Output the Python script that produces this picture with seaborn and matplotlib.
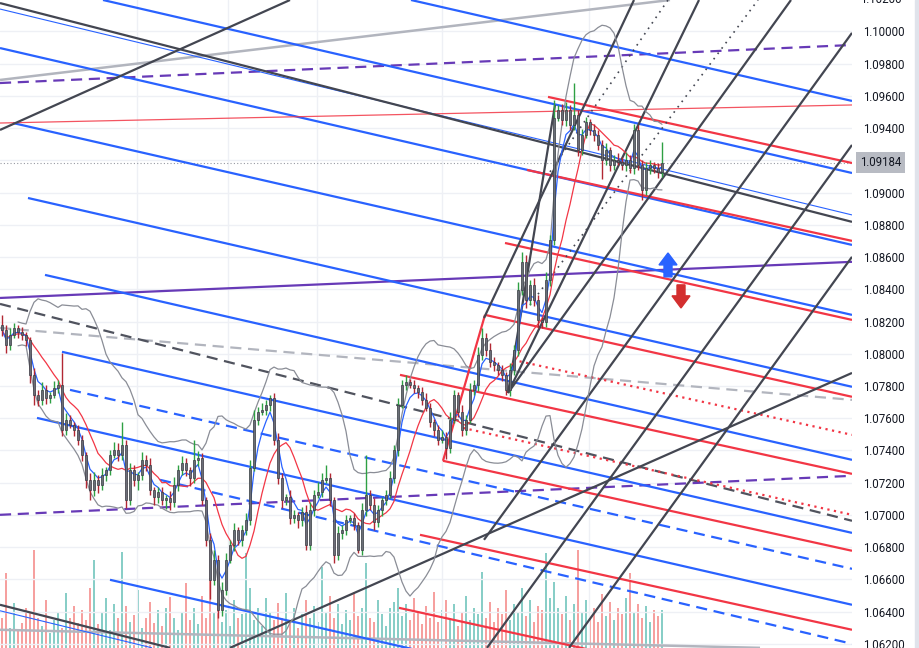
import numpy as np
import pandas as pd
import matplotlib
matplotlib.use('Agg')
import matplotlib.pyplot as plt
import seaborn as sns
from matplotlib.patches import Polygon, Rectangle

# ---- candle data (one value per bar) ----
first_open = 1.08179
close = [
    1.08148, 1.08055, 1.08117, 1.08160, 1.08136, 1.08117, 1.08086, 1.07869, 1.07745, 1.07714,
    1.07776, 1.07726, 1.07745, 1.07788, 1.07807, 1.07528, 1.07590, 1.07559, 1.07528, 1.07466,
    1.07373, 1.07218, 1.07156, 1.07218, 1.07187, 1.07249, 1.07280, 1.07373, 1.07404, 1.07373,
    1.07435, 1.07094, 1.07280, 1.07218, 1.07249, 1.07342, 1.07311, 1.07156, 1.07113, 1.07144,
    1.07094, 1.07106, 1.07082, 1.07187, 1.07280, 1.07323, 1.07280, 1.07230, 1.07342, 1.07354,
    1.07094, 1.06846, 1.06598, 1.06722, 1.06412, 1.06536, 1.06722, 1.06815, 1.06908, 1.06846,
    1.06908, 1.06970, 1.07292, 1.07590, 1.07640, 1.07652, 1.07683, 1.07726, 1.07466, 1.07230,
    1.07094, 1.07113, 1.06982, 1.07001, 1.06970, 1.07020, 1.06815, 1.07032, 1.07125, 1.07144,
    1.07218, 1.07230, 1.07094, 1.06753, 1.06889, 1.06908, 1.06970, 1.06982, 1.06939, 1.06784,
    1.07032, 1.07125, 1.07063, 1.06958, 1.07032, 1.07094, 1.07125, 1.07230, 1.07404, 1.07683,
    1.07807, 1.07826, 1.07807, 1.07788, 1.07764, 1.07714, 1.07664, 1.07578, 1.07528, 1.07466,
    1.07485, 1.07416, 1.07590, 1.07745, 1.07640, 1.07528, 1.07590, 1.07776, 1.07807, 1.07993,
    1.08098, 1.08024, 1.07950, 1.07931, 1.07900, 1.07869, 1.07776, 1.07900, 1.08024, 1.08396,
    1.08570, 1.08334, 1.08427, 1.08334, 1.08210, 1.08198, 1.08458, 1.08706, 1.09462, 1.09512,
    1.09450, 1.09512, 1.09419, 1.09481, 1.09264, 1.09357, 1.09438, 1.09388, 1.09357, 1.09295,
    1.09202, 1.09264, 1.09171, 1.09202, 1.09190, 1.09171, 1.09202, 1.09152, 1.09388, 1.09171,
    1.09016, 1.09152, 1.09171, 1.09152, 1.09128, 1.09184,
]
# wick lengths in pips
wick_up = [
    6, 3, 4, 3, 2, 3, 2, 2, 4, 3, 5, 3, 2, 4, 3, 20, 4, 3, 2, 3,
    3, 2, 4, 5, 3, 4, 2, 3, 5, 4, 14, 3, 4, 3, 2, 5, 3, 4, 2, 3,
    3, 2, 4, 5, 3, 4, 3, 2, 12, 4, 3, 2, 4, 6, 3, 5, 4, 3, 4, 2,
    3, 4, 5, 6, 3, 4, 3, 2, 3, 4, 3, 2, 4, 3, 2, 3, 4, 5, 3, 6,
    4, 8, 3, 2, 4, 3, 3, 2, 3, 2, 4, 25, 3, 4, 3, 2, 3, 4, 3, 4,
    3, 4, 2, 3, 2, 3, 4, 3, 2, 3, 4, 3, 5, 3, 2, 4, 3, 4, 3, 5,
    6, 3, 4, 3, 2, 3, 2, 4, 3, 5, 6, 4, 3, 4, 3, 2, 5, 3, 11, 3,
    4, 5, 3, 20, 3, 4, 3, 2, 4, 3, 3, 4, 2, 3, 4, 3, 5, 3, 4, 3,
    3, 4, 3, 2, 3, 13,
]
wick_dn = [
    4, 5, 3, 2, 4, 3, 4, 5, 6, 4, 3, 4, 3, 2, 3, 4, 3, 2, 4, 3,
    4, 5, 6, 4, 5, 3, 4, 3, 2, 4, 3, 5, 3, 4, 6, 3, 4, 3, 5, 4,
    3, 6, 5, 3, 4, 3, 4, 5, 3, 4, 3, 4, 12, 3, 5, 4, 3, 2, 4, 3,
    4, 3, 3, 2, 3, 2, 3, 4, 3, 4, 5, 3, 4, 3, 5, 4, 3, 3, 4, 2,
    3, 2, 4, 5, 3, 4, 3, 2, 3, 2, 3, 4, 3, 5, 3, 4, 3, 2, 3, 4,
    2, 3, 2, 3, 4, 3, 2, 3, 4, 3, 2, 7, 3, 2, 3, 4, 3, 2, 3, 4,
    3, 4, 3, 4, 3, 4, 3, 4, 3, 4, 3, 5, 3, 4, 5, 4, 3, 4, 3, 2,
    3, 4, 3, 3, 4, 3, 2, 3, 4, 3, 12, 3, 4, 3, 2, 3, 4, 3, 4, 3,
    6, 3, 4, 3, 4, 3,
]
volume = [
    30, 75, 20, 45, 18, 25, 40, 35, 98, 30, 22, 48, 15, 28, 36, 20, 55, 30, 42, 25,
    38, 28, 60, 88, 24, 35, 50, 18, 44, 30, 96, 42, 26, 33, 58, 20, 30, 46, 25, 38,
    22, 40, 51, 30, 18, 35, 65, 28, 40, 24, 52, 30, 70, 36, 44, 26, 38, 22, 48, 30,
    34, 95, 60, 28, 40, 22, 50, 36, 28, 45, 30, 55, 26, 40, 20, 34, 48, 30, 42, 26,
    81, 36, 52, 30, 44, 24, 38, 28, 56, 32, 40, 85, 30, 26, 48, 34, 22, 40, 46, 60,
    32, 44, 28, 50, 36, 24, 42, 30, 56, 26, 38, 48, 30, 44, 22, 36, 52, 28, 40, 34,
    76, 30, 46, 26, 40, 34, 58, 28, 44, 36, 60, 32, 48, 26, 42, 38, 95, 50, 66, 40,
    34, 52, 28, 44, 98, 36, 48, 30, 40, 26, 54, 32, 46, 28, 40, 34, 50, 75, 36, 44,
    30, 42, 26, 38, 32, 38,
]
last_price = 1.09184
price_ticks = [1.062, 1.064, 1.066, 1.068, 1.070, 1.072, 1.074, 1.076, 1.078, 1.080,
               1.082, 1.084, 1.086, 1.088, 1.090, 1.092, 1.094, 1.096, 1.098, 1.100]
time_grid = [33.75, 56.5, 78.75, 110, 146.75]

# ---- drawings: (bar0, price0, bar1, price1) ----
blue_solid = [
    (102.25, 1.10194, 212.5, 1.09568), (25.25, 1.10194, 212.5, 1.09121),
    (-0.5, 1.09896, 212.5, 1.08675), (2.75, 1.09431, 212.5, 1.08241),
    (6.5, 1.08966, 212.5, 1.07795), (10.75, 1.08489, 212.5, 1.07342),
    (15, 1.08012, 212.5, 1.06889), (8.75, 1.07602, 212.5, 1.06443),
    (27, 1.06598, 212.5, 1.05544),
]
blue_dashed = [(17, 1.07776, 212.5, 1.06666), (39.5, 1.07218, 212.5, 1.06201)]
blue_thin = [(-0.5, 1.10138, 212.5, 1.08861), (-0.5, 1.06406, 37.5, 1.06176)]
red_solid = [
    (136.5, 1.09593, 212.5, 1.09183), (131.25, 1.09140, 212.5, 1.08700),
    (125.75, 1.08687, 212.5, 1.08210), (120.75, 1.08241, 212.5, 1.07733),
    (99.5, 1.07869, 212.5, 1.07255), (110.25, 1.07336, 212.5, 1.06778),
    (104.5, 1.06877, 212.5, 1.06288), (99.25, 1.06424, 212.5, 1.05807),
    (110.25, 1.07336, 120.75, 1.08241),
]
red_dotted = [(127.75, 1.07962, 212.5, 1.07497), (115.25, 1.07540, 212.5, 1.07001)]
red_thin = [(-0.5, 1.09431, 212.5, 1.09543)]
purple_solid = [(-0.5, 1.08346, 212.5, 1.08570)]
purple_dashed = [(-0.5, 1.09679, 212.5, 1.09915), (-0.5, 1.07001, 212.5, 1.07243)]
dark_solid = [
    (-0.5, 1.10175, 212.5, 1.08818), (-0.5, 1.09388, 72, 1.10194),
    (-0.5, 1.06443, 42, 1.06176), (57, 1.06176, 212.5, 1.07881),
    (120.5, 1.08222, 158, 1.10194), (126.5, 1.07757, 138.25, 1.09543),
    (126.5, 1.07757, 174.25, 1.10194), (126.5, 1.07757, 197.25, 1.10194),
    (120.5, 1.06846, 212.5, 1.09990), (121.25, 1.06176, 212.5, 1.09295),
    (141.75, 1.06176, 212.5, 1.08601),
]
dark_dotted = [(137, 1.09128, 166.5, 1.10194), (132, 1.08303, 189, 1.10194)]
dark_dashed = [(-0.5, 1.08309, 212.5, 1.06964)]
light_solid = [(-0.5, 1.09698, 167, 1.10194), (-0.5, 1.06288, 189.5, 1.06176)]
light_dashed = [(-0.5, 1.08160, 212.5, 1.07714)]

sns.set_theme(style='white')
plt.rcParams['font.family'] = ['Roboto', 'DejaVu Sans']

df = pd.DataFrame({'bar': np.arange(len(close)), 'close': close})
df['open'] = df['close'].shift(1).fillna(first_open)
df['high'] = df[['open', 'close']].max(axis=1) + np.array(wick_up) * 1e-4
df['low'] = df[['open', 'close']].min(axis=1) - np.array(wick_dn) * 1e-4
df['up'] = df['close'] >= df['open']
df['fast'] = df['close'].ewm(span=4).mean()
df['slow'] = df['close'].rolling(10, min_periods=1).mean()
mid = df['close'].rolling(20, min_periods=5).mean()
sd = df['close'].rolling(20, min_periods=5).std(ddof=0)
df['bb_up'] = mid + 2 * sd
df['bb_lo'] = mid - 2 * sd

fig = plt.figure(figsize=(9.2, 6.48), dpi=100)
vax = fig.add_axes([0, 0, 852 / 920, 1])
ax = fig.add_axes([0, 0, 852 / 920, 1], sharex=vax)
ax.patch.set_visible(False)

# volume
vcol = np.where(df['up'], '#26a69a', '#ef5350')
vax.bar(df['bar'], volume, width=0.3, color=vcol, alpha=0.55, linewidth=0)
vax.set_ylim(0, 648)
vax.axis('off')

xlim = (-0.5, 212.5)
ylim = (1.06175, 1.10194)
ax.set_xlim(*xlim)
ax.set_ylim(*ylim)

# grid
for t in price_ticks:
    ax.axhline(t, color='#eef0f5', lw=1, zorder=0)
for g in time_grid:
    ax.axvline(g, color='#eef0f5', lw=1, zorder=0)


def draw(lines, color, lw, ls='-', z=3, alpha=1.0):
    for b0, p0, b1, p1 in lines:
        ax.plot([b0, b1], [p0, p1], color=color, lw=lw, ls=ls, zorder=z,
                alpha=alpha, solid_capstyle='butt')


draw(light_solid, '#b2b5be', 1.8)
draw(light_dashed, '#b2b5be', 1.6, (0, (5, 3)))
draw(dark_dashed, '#50535e', 1.6, (0, (5, 3)))
draw(purple_dashed, '#673ab7', 1.6, (0, (5, 3)))
draw(purple_solid, '#673ab7', 1.6)
draw(blue_solid, '#2962ff', 1.6)
draw(blue_dashed, '#2962ff', 1.6, (0, (5, 3)))
draw(blue_thin, '#2962ff', 0.8)
draw(red_solid, '#f23645', 1.6)
draw(red_dotted, '#f23645', 1.6, (0, (1, 2)))
draw(red_thin, '#f23645', 0.9, alpha=0.85)
draw(dark_solid, '#434651', 1.6)
draw(dark_dotted, '#434651', 1.2, (0, (1, 3)))

# bands and averages
sns.lineplot(data=df, x='bar', y='bb_up', ax=ax, color='#8a8d96', lw=0.9, zorder=4)
sns.lineplot(data=df, x='bar', y='bb_lo', ax=ax, color='#8a8d96', lw=0.9, zorder=4)
sns.lineplot(data=df, x='bar', y='slow', ax=ax, color='#f23645', lw=0.9, zorder=4)
sns.lineplot(data=df, x='bar', y='fast', ax=ax, color='#2962ff', lw=0.9, zorder=4)

# candles
wcol = np.where(df['up'], '#2ea043', '#b22833')
ax.vlines(df['bar'], df['low'], df['high'], colors=wcol, lw=1.0, zorder=5)
body = (df['close'] - df['open']).abs().clip(lower=0.00008)
bottom = df[['open', 'close']].min(axis=1)
ax.bar(df['bar'], body, bottom=bottom, width=0.72, color='#6b6e78',
       edgecolor='#3a3c44', linewidth=0.5, zorder=6)

# last price line
ax.axhline(last_price, color='#9598a1', lw=0.8, ls=(0, (1, 2)), zorder=2)

# arrows
ax.add_patch(Polygon([(164.25, 1.08551), (166.5, 1.08625), (168.75, 1.08551),
                      (167.5, 1.08551), (167.5, 1.08477), (165.5, 1.08477),
                      (165.5, 1.08551)], closed=True, color='#2962ff', zorder=7))
ax.add_patch(Polygon([(168.75, 1.08427), (170.75, 1.08427), (170.75, 1.08359),
                      (172, 1.08359), (169.75, 1.08284), (167.5, 1.08359),
                      (168.75, 1.08359)], closed=True, color='#d32f2f', zorder=7))

# axis styling (the 1.09200 label sits under the last-price box)
ax.set_xlabel('')
ax.set_ylabel('')
ax.set_xticks([])
ax.yaxis.tick_right()
ax.set_yticks(price_ticks)
ax.set_yticklabels(['' if abs(t - 1.092) < 1e-9 else f'{t:.5f}' for t in price_ticks])
ax.tick_params(axis='y', length=0, pad=8, labelsize=8.3, labelcolor='#131722')
for s in ax.spines.values():
    s.set_visible(False)
ytr = ax.get_yaxis_transform()
ax.text(1.0094, 1.102, '1.10200', transform=ytr, va='center', ha='left',
        fontsize=8.3, color='#131722', clip_on=False)
ax.text(1.0094, last_price, f'{last_price:.5f}', transform=ytr, va='center', ha='left',
        fontsize=8.3, color='#131722', clip_on=False,
        bbox=dict(boxstyle='square,pad=0.35', fc='#b8bbc3', ec='none'))

fig.patches.append(Rectangle((915 / 920, 0), 5 / 920, 1, transform=fig.transFigure,
                             color='#e0e3eb', zorder=0))

fig.savefig('out.png', dpi=100)
